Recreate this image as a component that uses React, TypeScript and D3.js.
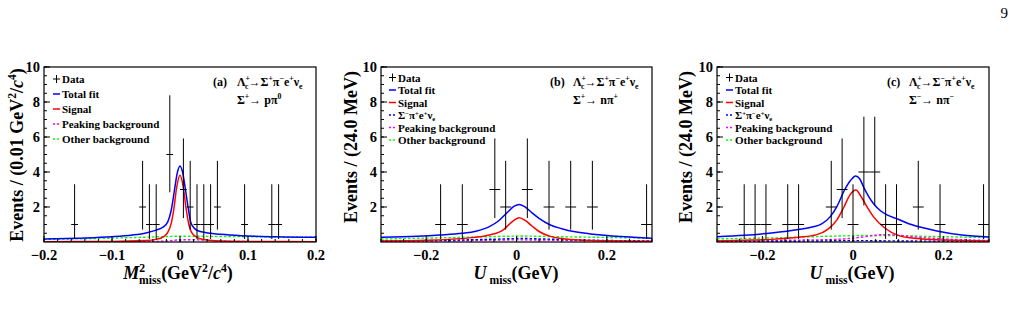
import React from 'react';
import * as d3 from 'd3';

type Pt = [number, number];

// Poisson 68% CL interval bounds for the data error bars, indexed by count
const poissonLow = [0, 0.173, 0.708, 1.367, 2.086, 2.84];
const poissonHigh = [1.841, 3.3, 4.638, 5.918, 7.163, 8.382];

const yTicks = [2, 4, 6, 8, 10];

// ---- (a) Sigma+ -> p pi0, M2miss ----
const xTicksA = [-0.2, -0.1, 0, 0.1, 0.2];
const centersA = [-0.155, -0.055, -0.045, -0.035, -0.015, 0.005, 0.015, 0.025, 0.035, 0.045, 0.055, 0.095, 0.135, 0.145];
const countsA = [1, 2, 1, 1, 5, 3, 2, 1, 1, 1, 2, 1, 1, 1];
const totalA: Pt[] = [[-0.2, 0.17], [-0.15, 0.22], [-0.1, 0.3], [-0.07, 0.4], [-0.05, 0.52], [-0.035, 0.68], [-0.025, 0.85], [-0.018, 1.15], [-0.013, 1.8], [-0.008, 3.0], [-0.004, 3.95], [0, 4.35], [0.004, 3.95], [0.008, 3.0], [0.012, 1.95], [0.016, 1.1], [0.022, 0.75], [0.03, 0.6], [0.045, 0.5], [0.06, 0.44], [0.09, 0.36], [0.14, 0.3], [0.2, 0.27]];
const signalA: Pt[] = [[-0.2, 0.02], [-0.1, 0.03], [-0.05, 0.08], [-0.035, 0.15], [-0.025, 0.28], [-0.018, 0.55], [-0.013, 1.05], [-0.009, 1.9], [-0.005, 3.1], [0, 3.82], [0.005, 3.1], [0.009, 1.9], [0.013, 1.0], [0.017, 0.55], [0.025, 0.26], [0.035, 0.14], [0.05, 0.07], [0.1, 0.03], [0.2, 0.02]];
const peakingA: Pt[] = [[-0.2, 0.01], [-0.05, 0.02], [-0.02, 0.06], [0, 0.12], [0.02, 0.13], [0.04, 0.1], [0.07, 0.04], [0.12, 0.02], [0.2, 0.01]];
const otherA: Pt[] = [[-0.2, 0.15], [-0.1, 0.22], [-0.03, 0.3], [0, 0.33], [0.05, 0.32], [0.1, 0.3], [0.2, 0.27]];

// ---- (b) Sigma+ -> n pi+, Umiss ----
const xTicksBC = [-0.2, 0, 0.2];
const centersB = [-0.168, -0.12, -0.048, -0.024, 0.024, 0.072, 0.12, 0.168, 0.288];
const countsB = [1, 1, 3, 2, 3, 2, 2, 2, 1];
const totalB: Pt[] = [[-0.3, 0.27], [-0.22, 0.33], [-0.17, 0.4], [-0.12, 0.5], [-0.09, 0.62], [-0.06, 0.88], [-0.04, 1.2], [-0.02, 1.7], [-0.005, 2.05], [0.006, 2.15], [0.018, 2.02], [0.035, 1.65], [0.05, 1.35], [0.075, 0.97], [0.1, 0.76], [0.13, 0.58], [0.17, 0.44], [0.23, 0.31], [0.3, 0.22]];
const signalB: Pt[] = [[-0.3, 0.06], [-0.2, 0.1], [-0.15, 0.15], [-0.1, 0.25], [-0.06, 0.4], [-0.03, 0.68], [-0.01, 1.15], [0.006, 1.39], [0.02, 1.22], [0.035, 0.9], [0.05, 0.6], [0.075, 0.32], [0.1, 0.2], [0.15, 0.1], [0.2, 0.07], [0.3, 0.04]];
const crossB: Pt[] = [[-0.3, 0.06], [-0.15, 0.1], [-0.05, 0.16], [0.01, 0.2], [0.06, 0.17], [0.15, 0.11], [0.3, 0.06]];
const peakingB: Pt[] = [[-0.3, 0.04], [-0.15, 0.07], [0, 0.12], [0.15, 0.08], [0.3, 0.04]];
const otherB: Pt[] = [[-0.3, 0.17], [-0.15, 0.25], [-0.05, 0.31], [0.01, 0.34], [0.08, 0.31], [0.2, 0.26], [0.3, 0.22]];

// ---- (c) Sigma- -> n pi-, Umiss ----
const centersC = [-0.24, -0.216, -0.192, -0.144, -0.12, -0.048, -0.024, 0, 0.024, 0.048, 0.072, 0.096, 0.144, 0.192, 0.288];
const countsC = [1, 1, 1, 1, 1, 2, 3, 1, 4, 4, 1, 1, 2, 1, 1];
const totalC: Pt[] = [[-0.3, 0.3], [-0.24, 0.38], [-0.18, 0.52], [-0.12, 0.72], [-0.09, 0.86], [-0.07, 1.02], [-0.05, 1.45], [-0.035, 2.05], [-0.02, 2.9], [-0.006, 3.5], [0.006, 3.77], [0.015, 3.6], [0.025, 3.05], [0.045, 2.2], [0.06, 1.8], [0.075, 1.55], [0.1, 1.3], [0.12, 1.07], [0.15, 0.84], [0.185, 0.63], [0.24, 0.4], [0.3, 0.29]];
const signalC: Pt[] = [[-0.3, 0.06], [-0.24, 0.1], [-0.18, 0.15], [-0.12, 0.27], [-0.08, 0.42], [-0.055, 0.74], [-0.035, 1.28], [-0.02, 2.0], [-0.007, 2.68], [0.006, 2.97], [0.02, 2.5], [0.03, 2.05], [0.045, 1.45], [0.07, 0.8], [0.1, 0.38], [0.14, 0.2], [0.2, 0.12], [0.3, 0.06]];
const crossC: Pt[] = [[-0.3, 0.03], [-0.1, 0.05], [0, 0.08], [0.1, 0.06], [0.3, 0.03]];
const peakingC: Pt[] = [[-0.3, 0.06], [-0.15, 0.1], [-0.05, 0.14], [0, 0.22], [0.04, 0.35], [0.07, 0.42], [0.1, 0.38], [0.15, 0.26], [0.22, 0.15], [0.3, 0.09]];
const otherC: Pt[] = [[-0.3, 0.18], [-0.15, 0.25], [-0.05, 0.33], [0.03, 0.37], [0.08, 0.37], [0.15, 0.33], [0.22, 0.29], [0.3, 0.25]];

const FONT = '"Liberation Serif", "Times New Roman", serif';
const BLUE = '#0000ff';
const RED = '#ff0000';
const MAGENTA = '#ff00ff';
const GREEN = '#00ff00';

type Seg = { t: string; k?: 'sup' | 'sub'; back?: number; it?: boolean };

function richSpans(segs: Seg[], size: number, supShift = 0.4, subShift = 0.25, scriptScale = 0.65) {
  let cur = 0;
  return segs.map((s, i) => {
    const target = s.k === 'sup' ? -supShift * size : s.k === 'sub' ? subShift * size : 0;
    const dy = target - cur;
    cur = target;
    return (
      <tspan key={i} dy={dy} dx={s.back ? -s.back : undefined}
        fontSize={s.k ? size * scriptScale : size} fontStyle={s.it ? 'italic' : undefined}>
        {s.t}
      </tspan>
    );
  });
}

type Curve = { pts: Pt[]; color: string; dashed?: boolean };
type LegendEntry = { label: Seg[]; kind: 'data' | 'line' | 'dash'; color: string };

interface PanelProps {
  x0: number; x1: number;
  domain: [number, number];
  xTicks: number[];
  minorStep: number;
  centers: number[]; counts: number[]; binWidth: number;
  curves: Curve[];
  legend: LegendEntry[];
  legendX: number; legendY: number; legendDy: number;
  tag: string; tagX: number; decayX: number;
  decay: Seg[]; sub: Seg[];
  yTitle: Seg[]; yTitleX: number; yTitleY: number;
  xTitle: Seg[]; xTitleX: number;
}

const Y0 = 67, Y1 = 242;

function fmtTick(v: number) {
  if (Math.abs(v) < 1e-9) return '0';
  return (v < 0 ? '\u2212' : '') + d3.format('.1f')(Math.abs(v));
}

function Panel(p: PanelProps) {
  const x = d3.scaleLinear().domain(p.domain).range([p.x0, p.x1]);
  const y = d3.scaleLinear().domain([0, 10]).range([Y1, Y0]);
  const line = d3.line<Pt>().x(d => x(d[0])).y(d => y(d[1])).curve(d3.curveMonotoneX);
  const clipId = 'clip' + p.tag.replace(/\W/g, '');
  const minorX = d3.range(Math.ceil(p.domain[0] / p.minorStep - 1e-6), Math.floor(p.domain[1] / p.minorStep + 1e-6) + 1)
    .map(i => i * p.minorStep);
  const minorY = d3.range(1, 21).map(i => i * 0.5);
  return (
    <g fontFamily={FONT} fontWeight="bold">
      <defs>
        <clipPath id={clipId}><rect x={p.x0} y={Y0} width={p.x1 - p.x0} height={Y1 - Y0} /></clipPath>
      </defs>
      <g clipPath={`url(#${clipId})`}>
        {p.curves.map((c, i) => (
          <path key={i} d={line(c.pts) || ''} fill="none" stroke={c.color}
            strokeWidth={c.dashed ? 1.4 : 1.5} strokeDasharray={c.dashed ? '2.5,2' : undefined} />
        ))}
      </g>
      {/* data with Poisson error bars */}
      {p.centers.map((c, i) => {
        const n = p.counts[i];
        return (
          <g key={i} stroke="#000" strokeWidth={1}>
            <line x1={x(c)} x2={x(c)} y1={y(poissonLow[n])} y2={y(poissonHigh[n])} />
            <line x1={x(c - p.binWidth / 2)} x2={x(c + p.binWidth / 2)} y1={y(n)} y2={y(n)} />
          </g>
        );
      })}
      {/* frame */}
      <rect x={p.x0} y={Y0} width={p.x1 - p.x0} height={Y1 - Y0} fill="none" stroke="#000" strokeWidth={1.2} />
      {/* x ticks */}
      {minorX.map((v, i) => (
        <line key={'mx' + i} x1={x(v)} x2={x(v)} y1={Y1} y2={Y1 - 3} stroke="#000" strokeWidth={1} />
      ))}
      {p.xTicks.map((v, i) => (
        <g key={'x' + i}>
          <line x1={x(v)} x2={x(v)} y1={Y1} y2={Y1 - 6} stroke="#000" strokeWidth={1} />
          <text x={x(v)} y={260} textAnchor="middle" fontSize={14.5}>{fmtTick(v)}</text>
        </g>
      ))}
      {/* y ticks */}
      {minorY.map((v, i) => (
        <line key={'my' + i} x1={p.x0} x2={p.x0 + 3} y1={y(v)} y2={y(v)} stroke="#000" strokeWidth={1} />
      ))}
      {yTicks.map((v, i) => (
        <g key={'y' + i}>
          <line x1={p.x0} x2={p.x0 + 6} y1={y(v)} y2={y(v)} stroke="#000" strokeWidth={1} />
          <text x={p.x0 - 4} y={y(v) + 5} textAnchor="end" fontSize={14.5}>{v}</text>
        </g>
      ))}
      {/* legend */}
      {p.legend.map((e, i) => {
        const cy = p.legendY + i * p.legendDy;
        const mx = p.legendX - 9;
        return (
          <g key={'l' + i}>
            {e.kind === 'data' ? (
              <g stroke="#000" strokeWidth={1}>
                <line x1={mx + 3.5} x2={mx + 3.5} y1={cy - 4} y2={cy + 4} />
                <line x1={mx} x2={mx + 7} y1={cy} y2={cy} />
              </g>
            ) : (
              <line x1={mx} x2={mx + 7} y1={cy} y2={cy} stroke={e.color} strokeWidth={1.5}
                strokeDasharray={e.kind === 'dash' ? '2,2' : undefined} />
            )}
            <text x={p.legendX} y={cy + 4} fontSize={11}>{richSpans(e.label, 11, 0.3, 0.15, 0.6)}</text>
          </g>
        );
      })}
      {/* decay labels */}
      <text x={p.tagX} y={86} fontSize={12}>{p.tag}</text>
      <text x={p.decayX} y={86} fontSize={12}>{richSpans(p.decay, 12)}</text>
      <text x={p.decayX} y={104} fontSize={12}>{richSpans(p.sub, 12)}</text>
      {/* axis titles */}
      <text transform={`translate(${p.yTitleX},${p.yTitleY}) rotate(-90)`} textAnchor="middle" fontSize={18}>
        {richSpans(p.yTitle, 18)}
      </text>
      <text x={p.xTitleX} y={279} textAnchor="middle" fontSize={18}>{richSpans(p.xTitle, 18, 0.4, 0.3)}</text>
    </g>
  );
}

const lambdaC: Seg[] = [{ t: '\u039b' }, { t: '+', k: 'sup' }, { t: 'c', k: 'sub', back: 5 }, { t: '\u2192\u03a3' }];

const legendBase = (extra: LegendEntry[]): LegendEntry[] => [
  { label: [{ t: 'Data' }], kind: 'data', color: '#000' },
  { label: [{ t: 'Total fit' }], kind: 'line', color: BLUE },
  { label: [{ t: 'Signal' }], kind: 'line', color: RED },
  ...extra,
  { label: [{ t: 'Peaking background' }], kind: 'dash', color: MAGENTA },
  { label: [{ t: 'Other background' }], kind: 'dash', color: GREEN },
];

const yTitleM2: Seg[] = [{ t: 'Events / (0.01 GeV' }, { t: '2', k: 'sup' }, { t: '/' }, { t: 'c', it: true }, { t: '4', k: 'sup' }, { t: ')' }];
const yTitleU: Seg[] = [{ t: 'Events / (24.0 MeV)' }];
const xTitleM2: Seg[] = [{ t: 'M', it: true }, { t: '2', k: 'sup' }, { t: 'miss', k: 'sub', back: 6 }, { t: '(GeV' }, { t: '2', k: 'sup' }, { t: '/' }, { t: 'c', it: true }, { t: '4', k: 'sup' }, { t: ')' }];
const xTitleU: Seg[] = [{ t: 'U', it: true }, { t: ' miss', k: 'sub' }, { t: '(GeV)' }];

export default function App() {
  return (
    <svg width={1014} height={318} style={{ position: 'absolute', left: 0, top: 0, background: '#fff' }}>
      <rect width={1014} height={318} fill="#fff" />
      <text x={1008} y={18} textAnchor="end" fontFamily={FONT} fontSize={15}>9</text>
      <Panel
        x0={44} x1={316} domain={[-0.2, 0.2]} xTicks={xTicksA} minorStep={0.02}
        centers={centersA} counts={countsA} binWidth={0.01}
        curves={[
          { pts: otherA, color: GREEN, dashed: true },
          { pts: peakingA, color: MAGENTA, dashed: true },
          { pts: signalA, color: RED },
          { pts: totalA, color: BLUE },
        ]}
        legend={legendBase([])}
        legendX={62} legendY={79} legendDy={15}
        tag="(a)" tagX={213} decayX={237}
        decay={[...lambdaC, { t: '+', k: 'sup' }, { t: '\u03c0' }, { t: '\u2212', k: 'sup' }, { t: 'e' }, { t: '+', k: 'sup' }, { t: '\u03bd' }, { t: 'e', k: 'sub' }]}
        sub={[{ t: '\u03a3' }, { t: '+', k: 'sup' }, { t: '\u2192 p\u03c0' }, { t: '0', k: 'sup' }]}
        yTitle={yTitleM2} yTitleX={23} yTitleY={155}
        xTitle={xTitleM2} xTitleX={178}
      />
      <Panel
        x0={381} x1={652} domain={[-0.3, 0.3]} xTicks={xTicksBC} minorStep={0.05}
        centers={centersB} counts={countsB} binWidth={0.024}
        curves={[
          { pts: otherB, color: GREEN, dashed: true },
          { pts: peakingB, color: MAGENTA, dashed: true },
          { pts: crossB, color: BLUE, dashed: true },
          { pts: signalB, color: RED },
          { pts: totalB, color: BLUE },
        ]}
        legend={legendBase([{ label: [{ t: '\u03a3' }, { t: '\u2212', k: 'sup' }, { t: '\u03c0' }, { t: '+', k: 'sup' }, { t: 'e' }, { t: '+', k: 'sup' }, { t: '\u03bd' }, { t: 'e', k: 'sub' }], kind: 'dash', color: BLUE }])}
        legendX={398} legendY={77.5} legendDy={12.5}
        tag="(b)" tagX={550} decayX={573}
        decay={[...lambdaC, { t: '+', k: 'sup' }, { t: '\u03c0' }, { t: '\u2212', k: 'sup' }, { t: 'e' }, { t: '+', k: 'sup' }, { t: '\u03bd' }, { t: 'e', k: 'sub' }]}
        sub={[{ t: '\u03a3' }, { t: '+', k: 'sup' }, { t: '\u2192 n\u03c0' }, { t: '+', k: 'sup' }]}
        yTitle={yTitleU} yTitleX={357} yTitleY={147}
        xTitle={xTitleU} xTitleX={516}
      />
      <Panel
        x0={717} x1={989} domain={[-0.3, 0.3]} xTicks={xTicksBC} minorStep={0.05}
        centers={centersC} counts={countsC} binWidth={0.024}
        curves={[
          { pts: otherC, color: GREEN, dashed: true },
          { pts: peakingC, color: MAGENTA, dashed: true },
          { pts: crossC, color: BLUE, dashed: true },
          { pts: signalC, color: RED },
          { pts: totalC, color: BLUE },
        ]}
        legend={legendBase([{ label: [{ t: '\u03a3' }, { t: '+', k: 'sup' }, { t: '\u03c0' }, { t: '\u2212', k: 'sup' }, { t: 'e' }, { t: '+', k: 'sup' }, { t: '\u03bd' }, { t: 'e', k: 'sub' }], kind: 'dash', color: BLUE }])}
        legendX={735} legendY={77.5} legendDy={12.5}
        tag="(c)" tagX={887} decayX={909}
        decay={[...lambdaC, { t: '\u2212', k: 'sup' }, { t: '\u03c0' }, { t: '+', k: 'sup' }, { t: 'e' }, { t: '+', k: 'sup' }, { t: '\u03bd' }, { t: 'e', k: 'sub' }]}
        sub={[{ t: '\u03a3' }, { t: '\u2212', k: 'sup' }, { t: '\u2192 n\u03c0' }, { t: '\u2212', k: 'sup' }]}
        yTitle={yTitleU} yTitleX={692} yTitleY={147}
        xTitle={xTitleU} xTitleX={852}
      />
    </svg>
  );
}
